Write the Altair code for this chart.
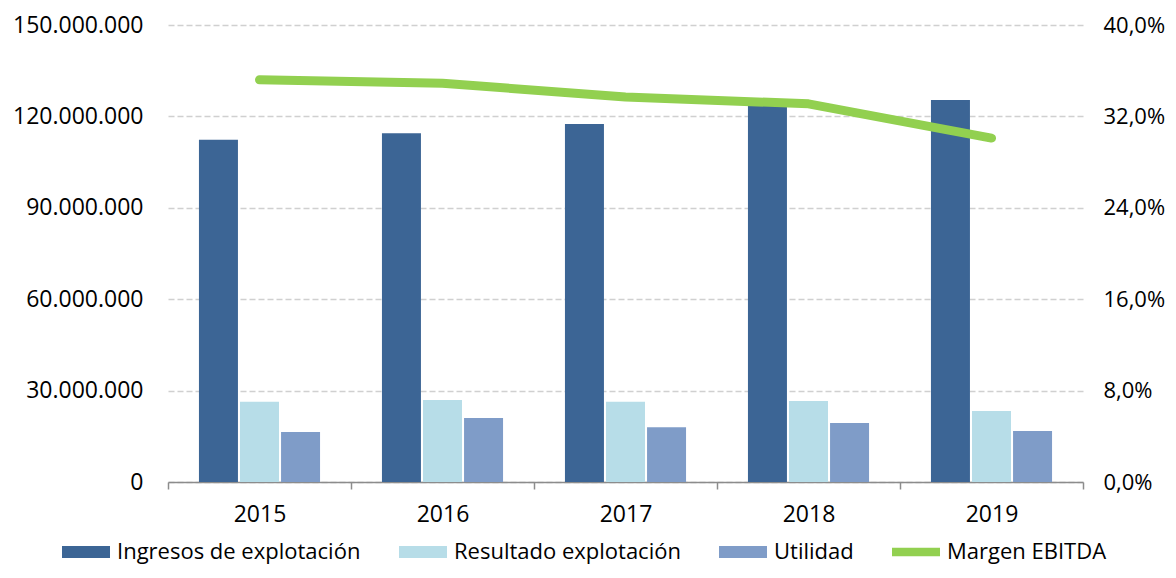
import altair as alt
import pandas as pd

years = ["2015", "2016", "2017", "2018", "2019"]
ingresos = [112300000, 114500000, 117500000, 124400000, 125400000]
resultado = [26300000, 26900000, 26300000, 26600000, 23300000]
utilidad = [16400000, 21000000, 18000000, 19400000, 16700000]
margen = [0.352, 0.349, 0.337, 0.331, 0.301]

series = ["Ingresos de explotación", "Resultado explotación", "Utilidad", "Margen EBITDA"]
colors = ["#3C6595", "#B7DDE8", "#7F9CC8", "#92D050"]

rows = []
for i, y in enumerate(years):
    rows.append({"year": y, "serie": series[0], "value": ingresos[i]})
    rows.append({"year": y, "serie": series[1], "value": resultado[i]})
    rows.append({"year": y, "serie": series[2], "value": utilidad[i]})
df_bars = pd.DataFrame(rows)
df_line = pd.DataFrame({"year": years, "serie": series[3], "margen": margen})

FONT = "Open Sans"
FS = 23

xscale = alt.Scale(paddingInner=0, paddingOuter=0)
xaxis = alt.Axis(title=None, labelAngle=0, labelFontSize=FS, labelFont=FONT, labelColor="#000000",
                 tickBand="extent", tickSize=7, tickColor="#8C8C8C", tickWidth=1.5,
                 domainColor="#8C8C8C", domainWidth=1.5, grid=False, labelPadding=14)

color = alt.Color(
    "serie:N",
    scale=alt.Scale(domain=series, range=colors),
    legend=alt.Legend(
        title=None, orient="none", direction="horizontal", legendX=-106, legendY=503,
        labelFont=FONT, labelFontSize=22, labelColor="#000000", labelLimit=400,
        symbolSize=2304, columnPadding=38, labelOffset=7,
        symbolType={"expr": "datum.value === 'Margen EBITDA' ? 'M-1,-0.18H1V0.18H-1Z' : 'M-1,-0.25H1V0.25H-1Z'"},
        symbolFillColor={"expr": "scale('color', datum.value)"},
        symbolStrokeWidth=0,
        symbolOpacity=1,
    ),
)

bars = alt.Chart(df_bars).mark_bar().encode(
    x=alt.X("year:N", scale=xscale, axis=xaxis, sort=years),
    xOffset=alt.XOffset("serie:N", sort=series[:3],
                        scale=alt.Scale(paddingInner=0.05, paddingOuter=0.754)),
    y=alt.Y("value:Q", scale=alt.Scale(domain=[0, 150000000]),
            axis=alt.Axis(title=None, values=[0, 30000000, 60000000, 90000000, 120000000, 150000000],
                          labelExpr="replace(format(datum.value, ','), regexp(',', 'g'), '.')",
                          labelFont=FONT, labelFontSize=FS, labelColor="#000000", labelPadding=25,
                          ticks=False, domain=False, grid=True, gridColor="#D0D0D0",
                          gridDash=[6, 3], gridWidth=1.5)),
    color=color,
)

line = alt.Chart(df_line).mark_line(strokeWidth=9, strokeCap="round", strokeJoin="round").encode(
    x=alt.X("year:N", scale=xscale, axis=xaxis, sort=years),
    y=alt.Y("margen:Q", scale=alt.Scale(domain=[0, 0.4]),
            axis=alt.Axis(title=None, orient="right", values=[0, 0.08, 0.16, 0.24, 0.32, 0.4],
                          labelExpr="replace(format(datum.value * 100, '.1f'), '.', ',') + '%'",
                          labelFont=FONT, labelFontSize=22, labelColor="#000000", labelPadding=20,
                          ticks=False, domain=False, grid=False)),
    color=color,
)

chart = alt.layer(bars, line).resolve_scale(y="independent").properties(
    width=915, height=457,
    autosize=alt.AutoSizeParams(type="none"),
    padding={"left": 160, "top": 17, "right": 85, "bottom": 88},
).configure_view(stroke=None)

chart.save("out.html", embed_options={"renderer": "svg", "actions": False})
